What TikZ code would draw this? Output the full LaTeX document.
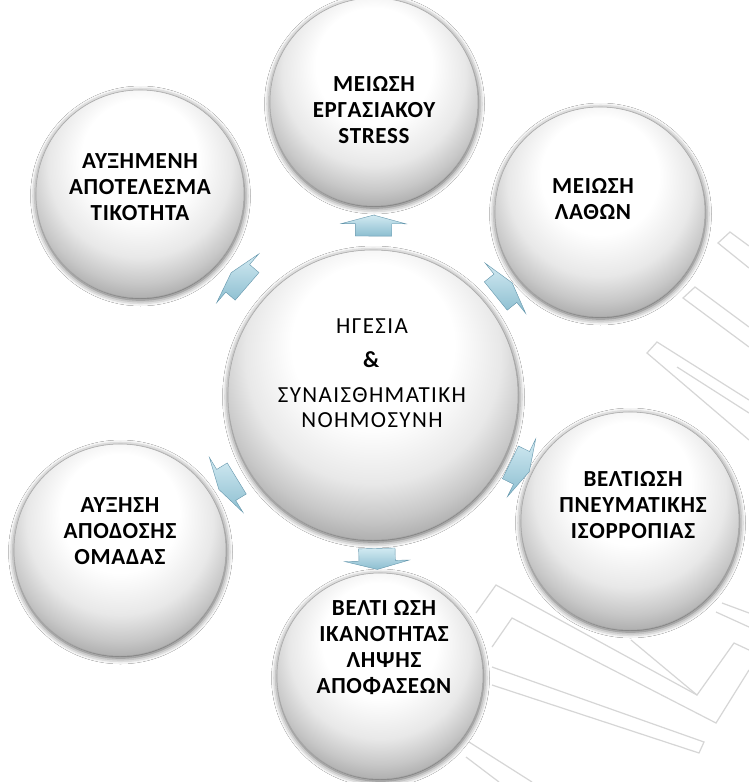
\documentclass[tikz,border=0pt]{standalone}
\usepackage{fontspec}
\setmainfont{Carlito}
\usetikzlibrary{shapes.arrows,shadows.blur}

% soft white-to-grey button shading, lit from above
\pgfdeclareradialshading{bubbleshade}{\pgfpoint{0bp}{12bp}}{%
  color(0bp)=(white); color(14bp)=(white); color(22bp)=(black!9);
  color(27bp)=(black!22); color(31bp)=(black!35); color(50bp)=(black!35)}

\definecolor{arrowlight}{RGB}{210,234,242}
\definecolor{arrowmid}{RGB}{140,190,208}
\definecolor{arrowdark}{RGB}{100,150,172}
\definecolor{wmgrey}{RGB}{214,214,214}

\begin{document}
\begin{tikzpicture}[x=1pt,y=-1pt,
  bubble/.style={circle,shading=bubbleshade,draw=black!35,line width=0.5pt,
    inner sep=0pt,minimum size=#1,
    blur shadow={shadow xshift=0.5pt,shadow yshift=-2pt,
      shadow blur radius=6pt,shadow opacity=70}},
  txt/.style={font=\fontsize{23}{26}\selectfont\bfseries\addfontfeature{LetterSpace=3},
    align=center,text=black},
  blockarrow/.style={single arrow,draw=arrowdark,line width=0.4pt,
    top color=arrowlight,bottom color=arrowmid,
    minimum height=21pt,inner xsep=0pt,inner ysep=18pt,
    single arrow head extend=14pt,single arrow tip angle=150,
    sloped,allow upside down},
  wm/.style={draw=wmgrey,line width=1.2pt,line join=miter}
]
\useasboundingbox[fill=white] (0,0) rectangle (749,782);

% faint watermark strokes
\draw[wm] (749,246) -- (730,232) -- (718,243) -- (749,268);
\draw[wm] (749,327) -- (695,287) -- (683,298) -- (749,347);
\draw[wm] (749,400) -- (657,342) -- (647,353) -- (749,440);
\draw[wm] (749,413) -- (677,367);
\draw[wm] (476,613) -- (496,585) -- (697,695) -- (734,643) -- (749,650);
\draw[wm] (492,647) -- (512,618) -- (716,723) -- (749,670);
\draw[wm] (492,667) -- (704,742) -- (699,753) -- (492,685);
\draw[wm] (469,742) -- (532,782);
\draw[wm] (466,757) -- (499,782);
\draw[wm] (722,603) -- (749,613);
\draw[wm] (716,612) -- (749,627);
\draw[wm] (631,640) -- (697,695);

% circles
\node[bubble=290pt] (ctr) at (373,395) {};
\node[bubble=208pt] (top) at (374,102) {};
\node[bubble=208pt] (tl)  at (140,194) {};
\node[bubble=210pt] (tr)  at (600,212) {};
\node[bubble=218pt] (rt)  at (630,521) {};
\node[bubble=206pt] (bot) at (380,676) {};
\node[bubble=212pt] (lf)  at (120,550) {};

% arrows from the hub to each circle
\path (ctr) -- node[blockarrow] (atop) {} (top);
\path (ctr) -- node[blockarrow] (atl)  {} (tl);
\path (ctr) -- node[blockarrow] (atr)  {} (tr);
\path (ctr) -- node[blockarrow] (art)  {} (rt);
\path (ctr) -- node[blockarrow] (abot) {} (bot);
\path (ctr) -- node[blockarrow] (alf)  {} (lf);

% labels
\node[font=\fontsize{23}{25}\selectfont\addfontfeature{LetterSpace=6},align=center]
  (ctrtxt) at (372,373)
  {ΗΓΕΣΙΑ\\[9pt]\textbf{\&}\\[10pt]ΣΥΝΑΙΣΘΗΜΑΤΙΚΗ\\ΝΟΗΜΟΣΥΝΗ};
\node[txt] (toptxt) at (374,110) {ΜΕΙΩΣΗ\\ΕΡΓΑΣΙΑΚΟΥ\\STRESS};
\node[txt] (tltxt)  at (140,187) {ΑΥΞΗΜΕΝΗ\\ΑΠΟΤΕΛΕΣΜΑ\\ΤΙΚΟΤΗΤΑ};
\node[txt] (trtxt)  at (593,199) {ΜΕΙΩΣΗ\\ΛΑΘΩΝ};
\node[txt] (rttxt)  at (633,505) {ΒΕΛΤΙΩΣΗ\\ΠΝΕΥΜΑΤΙΚΗΣ\\ΙΣΟΡΡΟΠΙΑΣ};
\node[txt] (bottxt) at (384,648) {ΒΕΛΤΙ ΩΣΗ\\ΙΚΑΝΟΤΗΤΑΣ\\ΛΗΨΗΣ\\ΑΠΟΦΑΣΕΩΝ};
\node[txt] (lftxt)  at (120,531) {ΑΥΞΗΣΗ\\ΑΠΟΔΟΣΗΣ\\ΟΜΑΔΑΣ};
\end{tikzpicture}
\end{document}
